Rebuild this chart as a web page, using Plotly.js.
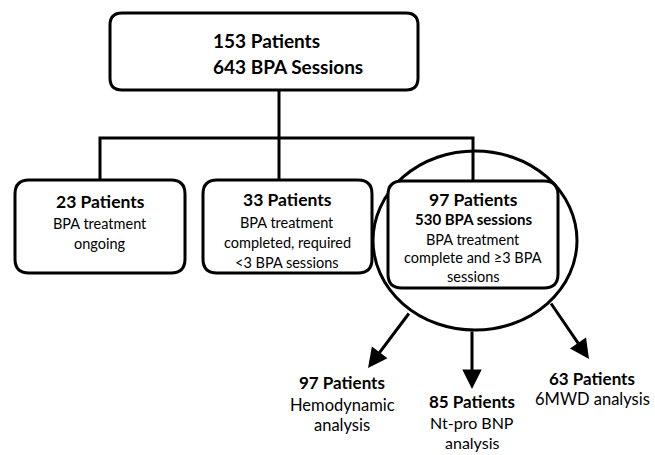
<!DOCTYPE html>
<html>
<head>
<meta charset="utf-8">
<script src="https://cdn.plot.ly/plotly-3.0.1.min.js"></script>
<style>html,body{margin:0;padding:0;background:#fff;}</style>
</head>
<body>
<div id="chart" style="width:655px;height:455px;"></div>
<script>
// ---- data ----
const patients = [153, 23, 33, 97, 97, 85, 63];
const sessions = [643, 530];
const descriptions = [
  [],
  ["BPA treatment", "ongoing"],
  ["BPA treatment", "completed, required", "&lt;3 BPA sessions"],
  ["BPA treatment", "complete and ≥3 BPA", "sessions"],
  ["Hemodynamic", "analysis"],
  ["Nt-pro BNP", "analysis"],
  ["6MWD analysis"]
];

// ---- layout geometry (pixel space) ----
const boxes = [
  {x0:110, x1:418, y0:13, y1:90, r:12},
  {x0:15, x1:185, y0:180, y1:273, r:14},
  {x0:203, x1:372, y0:180, y1:273, r:14},
  {x0:388, x1:558, y0:181, y1:288, r:14}
];
function rr(b){
  const {x0,x1,y0,y1,r}=b;
  return `M${x0+r},${y0} L${x1-r},${y0} Q${x1},${y0} ${x1},${y0+r} L${x1},${y1-r} Q${x1},${y1} ${x1-r},${y1} L${x0+r},${y1} Q${x0},${y1} ${x0},${y1-r} L${x0},${y0+r} Q${x0},${y0} ${x0+r},${y0} Z`;
}
const lw = 3;
const shapes = [];
shapes.push({type:'path', path:'M279,90 L279,138', line:{color:'#000',width:lw}});
shapes.push({type:'path', path:'M100,180 L100,138 L473,138 L473,181', line:{color:'#000',width:lw}});
shapes.push({type:'path', path:'M279,138 L279,180', line:{color:'#000',width:lw}});
shapes.push({type:'circle', x0:373, x1:577, y0:151, y1:330, line:{color:'#000',width:lw}});
boxes.forEach(b=>shapes.push({type:'path', path:rr(b), fillcolor:'#fff', line:{color:'#000',width:lw}}));

const F = 'Lato, "Open Sans", sans-serif';
const ann = [];
function txt(x,y,t,size,bold,anchor){
  ann.push({x:x,y:y,xref:'x',yref:'y',text:bold?'<b>'+t+'</b>':t,showarrow:false,
    xanchor:anchor||'center',yanchor:'middle',align:'center',borderpad:0,
    font:{family:F,size:size,color:'#000'}});
}
function lines(x,y0,dy,arr,size){
  arr.forEach((t,i)=>txt(x,y0+i*dy,t,size,false));
}
// top box
txt(212,40,patients[0]+' Patients',19,true,'left');
txt(212,66,sessions[0]+' BPA Sessions',19,true,'left');
// box 1
txt(100,201,patients[1]+' Patients',17.5,true);
lines(100,223,20,descriptions[1],14.5);
// box 2
txt(287,199,patients[2]+' Patients',17.5,true);
lines(287,222,20,descriptions[2],14.5);
// box 3
txt(473,199,patients[3]+' Patients',17.5,true);
txt(473,219,sessions[1]+' BPA sessions',15,true);
lines(473,239,18.5,descriptions[3],14.5);
// bottom groups
txt(342,382,patients[4]+' Patients',17,true);
lines(342,405,20,descriptions[4],16.5);
txt(472,401,patients[5]+' Patients',17,true);
lines(472,422,20,descriptions[5],16);
txt(592,378,patients[6]+' Patients',17,true);
lines(592,399,20,descriptions[6],16.5);

// arrows
const arrows = [[410,312,368,368],[472,330,472,389],[550,302,589,359]];
arrows.forEach(a=>ann.push({x:a[2],y:a[3],ax:a[0],ay:a[1],xref:'x',yref:'y',axref:'x',ayref:'y',
  showarrow:true,arrowhead:2,arrowsize:1.3,arrowwidth:3,arrowcolor:'#000',text:''}));

const layout = {
  width:655,height:455,margin:{l:0,r:0,t:0,b:0},
  paper_bgcolor:'#fff',plot_bgcolor:'#fff',
  xaxis:{range:[0,655],visible:false,fixedrange:true},
  yaxis:{range:[455,0],visible:false,fixedrange:true},
  shapes:shapes,annotations:ann,showlegend:false
};
Plotly.newPlot('chart',[],layout,{staticPlot:true});
</script>
</body>
</html>
